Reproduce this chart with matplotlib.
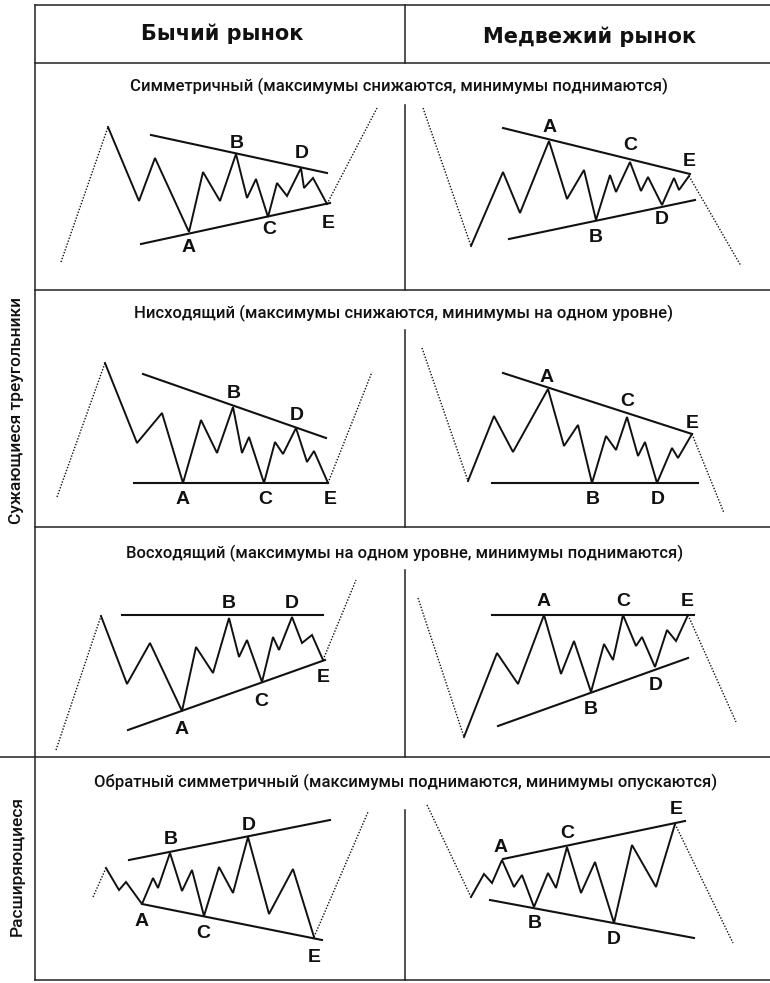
import matplotlib
matplotlib.use("Agg")
import matplotlib.pyplot as plt
from matplotlib import font_manager

# ---- данные: вершины волн и линии в координатах рисунка (px) ----
headers = ["Бычий рынок", "Медвежий рынок"]
row_titles = [
    "Симметричный (максимумы снижаются, минимумы поднимаются)",
    "Нисходящий (максимумы снижаются, минимумы на одном уровне)",
    "Восходящий (максимумы на одном уровне, минимумы поднимаются)",
    "Обратный симметричный (максимумы поднимаются, минимумы опускаются)",
]
side_titles = ["Сужающиеся треугольники", "Расширяющиеся"]

# 1. Симметричный, бычий
sym_bull_wave = [(108, 127), (139, 201), (155, 158), (189, 232), (203, 172), (220, 201),
                 (236, 154), (247, 198), (256, 179), (268, 217), (277, 183), (287, 196),
                 (301, 168), (304, 188), (313, 178), (327, 204)]
sym_bull_dots = [[(61, 262), (108, 127)], [(327, 204), (377, 108)]]
sym_bull_lines = [[(151, 135), (327, 173)], [(141, 244), (330, 203)]]
sym_bull_marks = {"A": (189, 248), "B": (237, 143), "C": (269, 230), "D": (302, 154), "E": (328, 223)}

# 2. Симметричный, медвежий
sym_bear_wave = [(471, 246), (503, 172), (520, 213), (549, 141), (567, 199), (584, 170),
                 (596, 220), (610, 175), (616, 192), (630, 162), (641, 191), (648, 177),
                 (662, 205), (674, 178), (679, 190), (689, 176)]
sym_bear_dots = [[(423, 108), (471, 246)], [(689, 176), (741, 266)]]
sym_bear_lines = [[(503, 128), (690, 174)], [(509, 239), (695, 200)]]
sym_bear_marks = {"A": (550, 127), "B": (596, 237), "C": (630, 146), "D": (662, 220), "E": (689, 162)}

# 3. Нисходящий, бычий
desc_bull_wave = [(105, 363), (137, 443), (162, 413), (183, 483), (201, 420), (217, 453),
                  (233, 407), (242, 453), (249, 437), (264, 483), (275, 442), (283, 454),
                  (296, 428), (307, 462), (314, 451), (328, 483)]
desc_bull_dots = [[(57, 497), (105, 363)], [(328, 483), (372, 372)]]
desc_bull_lines = [[(143, 374), (326, 438)], [(134, 483), (328, 483)]]
desc_bull_marks = {"A": (183, 500), "B": (234, 393), "C": (265, 500), "D": (297, 415), "E": (330, 500)}

# 4. Нисходящий, медвежий
desc_bear_wave = [(468, 481), (494, 416), (513, 452), (548, 389), (564, 446), (578, 425),
                  (592, 483), (606, 436), (616, 450), (627, 417), (638, 456), (645, 442),
                  (657, 483), (672, 448), (678, 458), (692, 434)]
desc_bear_dots = [[(422, 348), (468, 481)], [(692, 434), (724, 513)]]
desc_bear_lines = [[(503, 373), (692, 434)], [(492, 483), (698, 483)]]
desc_bear_marks = {"A": (547, 377), "B": (593, 500), "C": (627, 402), "D": (658, 500), "E": (692, 423)}

# 5. Восходящий, бычий
asc_bull_wave = [(101, 616), (127, 684), (150, 643), (182, 711), (196, 647), (213, 673),
                 (229, 618), (239, 657), (247, 640), (262, 682), (273, 637), (279, 650),
                 (292, 617), (302, 643), (312, 635), (323, 660)]
asc_bull_dots = [[(56, 750), (101, 616)], [(323, 660), (356, 580)]]
asc_bull_lines = [[(122, 615), (323, 615)], [(128, 730), (325, 660)]]
asc_bull_marks = {"A": (182, 729), "B": (229, 603), "C": (261, 701), "D": (292, 603), "E": (323, 678)}

# 6. Восходящий, медвежий
asc_bear_wave = [(464, 737), (497, 653), (518, 684), (544, 615), (561, 674), (574, 641),
                 (591, 692), (604, 644), (613, 660), (623, 615), (636, 646), (642, 637),
                 (655, 667), (667, 630), (676, 641), (688, 615)]
asc_bear_dots = [[(418, 598), (464, 737)], [(688, 615), (736, 722)]]
asc_bear_lines = [[(492, 615), (694, 615)], [(498, 726), (688, 658)]]
asc_bear_marks = {"A": (544, 601), "B": (591, 710), "C": (623, 601), "D": (656, 685), "E": (687, 601)}

# 7. Расширяющийся, бычий
wide_bull_wave = [(106, 868), (119, 890), (126, 882), (142, 904), (153, 878), (158, 888),
                  (170, 853), (182, 891), (192, 870), (204, 916), (219, 867), (233, 893),
                  (248, 837), (269, 914), (293, 869), (314, 937)]
wide_bull_dots = [[(93, 897), (106, 868)], [(314, 937), (368, 812)]]
wide_bull_lines = [[(129, 860), (330, 820)], [(142, 904), (322, 940)]]
wide_bull_marks = {"A": (142, 922), "B": (171, 840), "C": (203, 933), "D": (249, 825), "E": (314, 957)}

# 8. Расширяющийся, медвежий
wide_bear_wave = [(471, 897), (484, 874), (492, 883), (502, 860), (514, 887), (522, 875),
                  (534, 907), (548, 873), (556, 888), (567, 847), (581, 893), (595, 862),
                  (614, 923), (632, 845), (656, 887), (675, 824)]
wide_bear_dots = [[(427, 805), (471, 897)], [(675, 824), (733, 943)]]
wide_bear_lines = [[(503, 859), (685, 821)], [(490, 900), (694, 938)]]
wide_bear_marks = {"A": (501, 848), "B": (535, 923), "C": (567, 833), "D": (614, 940), "E": (676, 810)}

panels = [
    (sym_bull_wave, sym_bull_dots, sym_bull_lines, sym_bull_marks),
    (sym_bear_wave, sym_bear_dots, sym_bear_lines, sym_bear_marks),
    (desc_bull_wave, desc_bull_dots, desc_bull_lines, desc_bull_marks),
    (desc_bear_wave, desc_bear_dots, desc_bear_lines, desc_bear_marks),
    (asc_bull_wave, asc_bull_dots, asc_bull_lines, asc_bull_marks),
    (asc_bear_wave, asc_bear_dots, asc_bear_lines, asc_bear_marks),
    (wide_bull_wave, wide_bull_dots, wide_bull_lines, wide_bull_marks),
    (wide_bear_wave, wide_bear_dots, wide_bear_lines, wide_bear_marks),
]

# ---- шрифты ----
installed = {f.name for f in font_manager.fontManager.ttflist}
narrow = "Liberation Sans Narrow" if "Liberation Sans Narrow" in installed else "Roboto"

# ---- рисунок ----
fig = plt.figure(figsize=(7.7, 9.83), dpi=100)
ax = fig.add_axes([0, 0, 1, 1])
ax.set_xlim(0, 770)
ax.set_ylim(983, 0)
ax.axis("off")

ink = "#111111"
frame = dict(color="#222222", lw=1.1)

# сетка таблицы
ax.plot([35, 770], [5, 5], **frame)
ax.plot([35, 770], [63, 63], **frame)
ax.plot([35, 770], [290, 290], **frame)
ax.plot([35, 770], [527, 527], **frame)
ax.plot([0, 770], [757, 757], **frame)
ax.plot([35, 770], [980, 980], **frame)
ax.plot([35, 35], [5, 980], **frame)
# средняя вертикаль с разрывами под подзаголовками
for y0, y1 in [(5, 63), (105, 290), (330, 527), (570, 757), (810, 980)]:
    ax.plot([405, 405], [y0, y1], **frame)

# заголовки колонок
ax.text(222, 34, headers[0], ha="center", va="center", fontsize=15,
        fontweight="heavy", family="DejaVu Sans", color=ink)
ax.text(590, 37, headers[1], ha="center", va="center", fontsize=15,
        fontweight="heavy", family="DejaVu Sans", color=ink)

# подзаголовки строк
for (x, y), title in zip([(399, 86), (404, 313), (405, 553), (406, 782)], row_titles):
    ax.text(x, y, title, ha="center", va="center", fontsize=12,
            fontweight="medium", family=narrow, color=ink)

# боковые подписи
ax.text(17, 410, side_titles[0], rotation=90, ha="center", va="center",
        fontsize=12.5, fontweight="medium", family=narrow, color=ink)
ax.text(17, 866, side_titles[1], rotation=90, ha="center", va="center",
        fontsize=12.5, fontweight="medium", family=narrow, color=ink)

# фигуры
for wave, dots, lines, marks in panels:
    wx, wy = zip(*wave)
    ax.plot(wx, wy, color=ink, lw=1.4, solid_joinstyle="miter")
    for seg in dots:
        sx, sy = zip(*seg)
        ax.plot(sx, sy, color=ink, lw=1.0, ls=(0, (1, 1.2)))
    for seg in lines:
        sx, sy = zip(*seg)
        ax.plot(sx, sy, color=ink, lw=1.5)
    for letter, (lx, ly) in marks.items():
        ax.text(lx, ly, letter, ha="center", va="center", fontsize=14,
                fontweight="bold", family="Liberation Sans", color=ink)

fig.savefig("out.png", dpi=100, facecolor="white")
